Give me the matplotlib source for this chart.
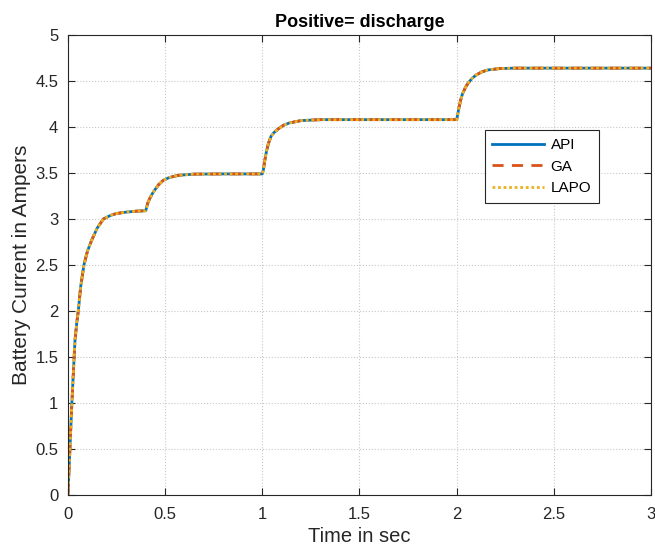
import matplotlib
matplotlib.use('Agg')
import matplotlib.pyplot as plt
from matplotlib.ticker import FormatStrFormatter

# time points (sec)
time_sec = [0, 0.005, 0.01, 0.015, 0.02, 0.027, 0.036, 0.045, 0.053, 0.065,
            0.082, 0.10, 0.122, 0.15, 0.182, 0.22, 0.25, 0.30, 0.35, 0.40,
            0.41, 0.42, 0.435, 0.448, 0.465, 0.49, 0.52, 0.568, 0.65, 0.8,
            1.0, 1.005, 1.013, 1.02, 1.031, 1.045, 1.06, 1.082, 1.11, 1.14,
            1.2, 1.3, 1.6, 2.0, 2.005, 2.01, 2.02, 2.03, 2.045, 2.06,
            2.08, 2.10, 2.13, 2.16, 2.22, 2.3, 2.6, 3.0]

# battery current (A), the three controllers overlap
current_api = [0, 0.26, 0.5, 0.76, 1.0, 1.3, 1.68, 1.87, 2.0, 2.26,
               2.5, 2.65, 2.77, 2.9, 3.0, 3.04, 3.06, 3.075, 3.085, 3.09,
               3.17, 3.22, 3.28, 3.32, 3.37, 3.42, 3.45, 3.475, 3.488, 3.49,
               3.49, 3.53, 3.64, 3.72, 3.82, 3.9, 3.94, 3.98, 4.02, 4.045,
               4.07, 4.08, 4.08, 4.08, 4.13, 4.19, 4.29, 4.36, 4.43, 4.48,
               4.53, 4.565, 4.6, 4.62, 4.635, 4.64, 4.64, 4.64]
current_ga = list(current_api)
current_lapo = list(current_api)

labels = ['API', 'GA', 'LAPO']

plt.rcParams['font.family'] = ['Liberation Sans', 'DejaVu Sans']

fig = plt.figure(figsize=(6.55, 5.54), dpi=100)
ax = fig.add_axes([0.1038, 0.1065, 0.8901, 0.8303])

ax.plot(time_sec, current_api, color='#0072BD', lw=2, ls='-', label=labels[0])
ax.plot(time_sec, current_ga, color='#D95319', lw=2, ls=(0, (4, 3)), label=labels[1])
ax.plot(time_sec, current_lapo, color='#EDB120', lw=2, ls=(0, (1, 1)), label=labels[2])

ax.set_xlim(0, 3)
ax.set_ylim(0, 5)
ax.set_xticks([0, 0.5, 1, 1.5, 2, 2.5, 3])
ax.set_yticks([0, 0.5, 1, 1.5, 2, 2.5, 3, 3.5, 4, 4.5, 5])
ax.xaxis.set_major_formatter(FormatStrFormatter('%g'))
ax.yaxis.set_major_formatter(FormatStrFormatter('%g'))
ax.tick_params(direction='in', length=5, width=0.8, colors='#262626',
               labelsize=12, top=True, right=True)
ax.tick_params(axis='x', pad=9)
ax.tick_params(axis='y', pad=7)
for s in ax.spines.values():
    s.set_color('#262626')
    s.set_linewidth(0.8)

ax.grid(True, color='#c8c8c8', ls=':', lw=0.8)

ax.set_title('Positive= discharge', fontsize=13, fontweight='bold', pad=6)
ax.set_xlabel('Time in sec', fontsize=14.5, color='#262626', labelpad=3)
ax.set_ylabel('Battery Current in Ampers', fontsize=15, color='#262626', labelpad=3)

leg = ax.legend(loc='upper left', bbox_to_anchor=(0.715, 0.793), fontsize=11,
                fancybox=False, framealpha=1, edgecolor='#262626',
                handlelength=3.4, borderpad=0.5, labelspacing=0.5,
                handletextpad=0.4, borderaxespad=0)
leg.get_frame().set_linewidth(0.8)

fig.savefig('out.png', dpi=100)
